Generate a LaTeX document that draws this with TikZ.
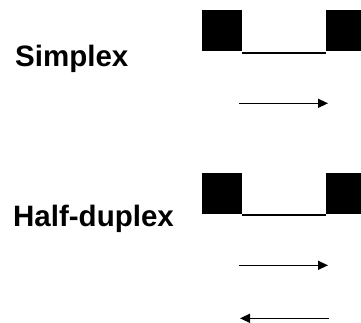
\documentclass[tikz,border=0pt]{standalone}
\usepackage{fontspec}
\setmainfont{Liberation Sans}
\usetikzlibrary{arrows.meta}
\begin{document}
\begin{tikzpicture}[x=1pt,y=-1pt,
  station/.style={fill=black,draw=none,minimum width=40pt,minimum height=41pt,inner sep=0pt,anchor=north west},
  modelabel/.style={anchor=base west,inner sep=0pt,font=\fontsize{29.5}{34}\selectfont\bfseries},
  link/.style={line width=2pt},
  flow/.style={line width=1.4pt,-{Triangle[length=10pt,width=9pt]}}]
\useasboundingbox (0,0) rectangle (361,322);
\begin{scope}
\clip (0,0) rectangle (361,322);
% Simplex: two stations joined by one link, data in one direction
\node[modelabel] (simplex) at (15,66.5) {Simplex};
\node[station] (s1) at (202,10) {};
\node[station] (s2) at (326,10) {};
\draw[link] ([yshift=-1.5pt]s1.south east) -- ([yshift=-1.5pt]s2.south west);
\coordinate (sa1) at (239,103.3);
\coordinate (sa2) at (328,103.3);
\draw[flow] (sa1) -- (sa2);
% Half-duplex: same link, data in either direction
\node[modelabel] (half) at (13,226.5) {Half-duplex};
\node[station] (h1) at (202,172.3) {};
\node[station] (h2) at (326,172.3) {};
\draw[link] ([yshift=-1.5pt]h1.south east) -- ([yshift=-1.5pt]h2.south west);
\coordinate (ha1) at (239,265.3);
\coordinate (ha2) at (328,265.3);
\draw[flow] (ha1) -- (ha2);
\coordinate (hb1) at (329,318.3);
\coordinate (hb2) at (240,318.3);
\draw[flow] (hb1) -- (hb2);
\end{scope}
\end{tikzpicture}
\end{document}
